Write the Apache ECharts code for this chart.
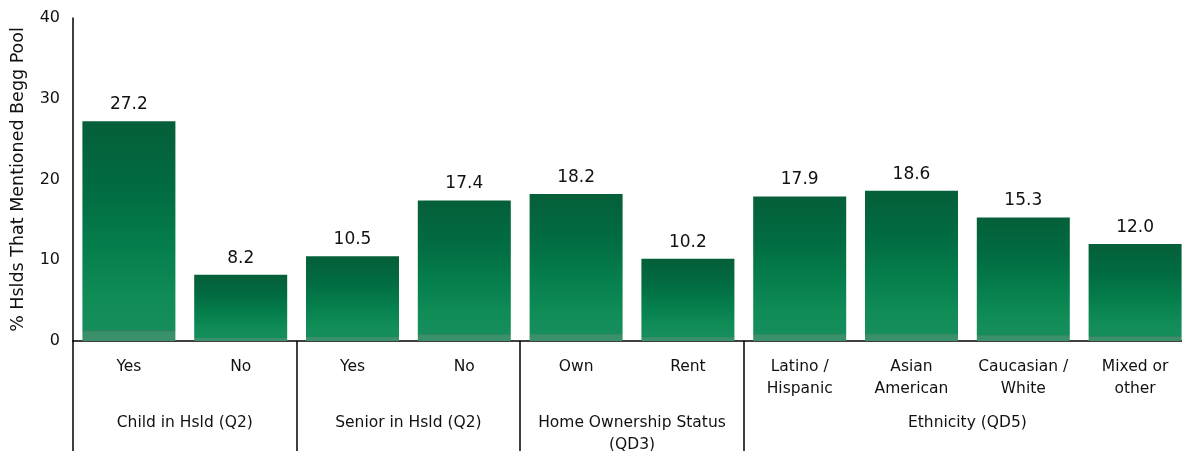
<!DOCTYPE html>
<html>
<head>
<meta charset="utf-8">
<script src="https://cdn.jsdelivr.net/npm/echarts@6/dist/echarts.min.js"></script>
<style>
  html, body { margin: 0; padding: 0; background: #fff; }
  #main { width: 1182px; height: 451px; }
</style>
</head>
<body>
<div id="main"></div>
<script>
// 数据
const categories = ['Yes', 'No', 'Yes', 'No', 'Own', 'Rent', 'Latino /\nHispanic', 'Asian\nAmerican', 'Caucasian /\nWhite', 'Mixed or\nother']
const values = [27.2, 8.2, 10.5, 17.4, 18.2, 10.2, 17.9, 18.6, 15.3, 12.0]
const groupNames = ['Child in Hsld (Q2)', 'Senior in Hsld (Q2)', 'Home Ownership Status\n(QD3)', 'Ethnicity (QD5)']
const groupSizes = [2, 2, 2, 4]
const yTicks = [0, 10, 20, 30, 40]

// 分组的边界和中点
let bounds = [0]
let mids = []
groupSizes.forEach(n => {
    let start = bounds[bounds.length - 1]
    mids.push(start + n / 2)
    bounds.push(start + n)
})
bounds.pop() // 右边没有竖线

const font = 'DejaVu Sans'

// 柱子渐变
const barColor = new echarts.graphic.LinearGradient(0, 0, 0, 1, [
    { offset: 0, color: '#055f39' },
    { offset: 0.3, color: '#016b41' },
    { offset: 0.6, color: '#06804d' },
    { offset: 0.8, color: '#108c57' },
    { offset: 0.95, color: '#168e5b' },
    { offset: 0.952, color: '#2f8260' },
    { offset: 0.96, color: '#3a9068' },
    { offset: 1, color: '#3a9068' }
])

let chart = echarts.init(document.getElementById('main'))

chart.setOption({
    animation: false,
    grid: { left: 73, right: -9, top: 18, bottom: 110, containLabel: false, outerBoundsMode: 'none' },
    xAxis: [{
        type: 'category',
        data: categories,
        axisLine: { lineStyle: { color: '#000', width: 1.5 } },
        axisTick: { show: false },
        axisLabel: {
            interval: 0, color: '#111', fontFamily: font, fontSize: 15.5,
            lineHeight: 22, margin: 15
        }
    }, {
        type: 'value',
        position: 'bottom',
        min: 0, max: categories.length,
        axisLine: { show: false },
        splitLine: { show: false },
        axisTick: {
            show: true, inside: false, length: 110, customValues: bounds,
            lineStyle: { color: '#000', width: 1.5 }
        },
        axisLabel: {
            customValues: mids, color: '#111', fontFamily: font, fontSize: 15.5,
            lineHeight: 22, margin: 71,
            formatter: v => groupNames[mids.indexOf(v)]
        }
    }],
    yAxis: {
        type: 'value',
        min: 0, max: 40, interval: 10,
        name: '% Hslds That Mentioned Begg Pool',
        nameLocation: 'middle',
        nameGap: 46,
        nameTextStyle: { color: '#111', fontFamily: font, fontSize: 17.5 },
        axisLine: { show: true, lineStyle: { color: '#000', width: 1.5 } },
        axisTick: { show: false },
        splitLine: { show: false },
        axisLabel: {
            color: '#111', fontFamily: font, fontSize: 16, margin: 13,
            formatter: v => yTicks.includes(v) ? String(v) : ''
        }
    },
    series: [{
        type: 'bar',
        xAxisIndex: 0,
        data: values,
        barWidth: 93,
        itemStyle: { color: barColor },
        label: {
            show: true, position: 'top', distance: 8,
            color: '#111', fontFamily: font, fontSize: 17,
            formatter: p => p.value.toFixed(1)
        }
    }]
})
</script>
</body>
</html>
